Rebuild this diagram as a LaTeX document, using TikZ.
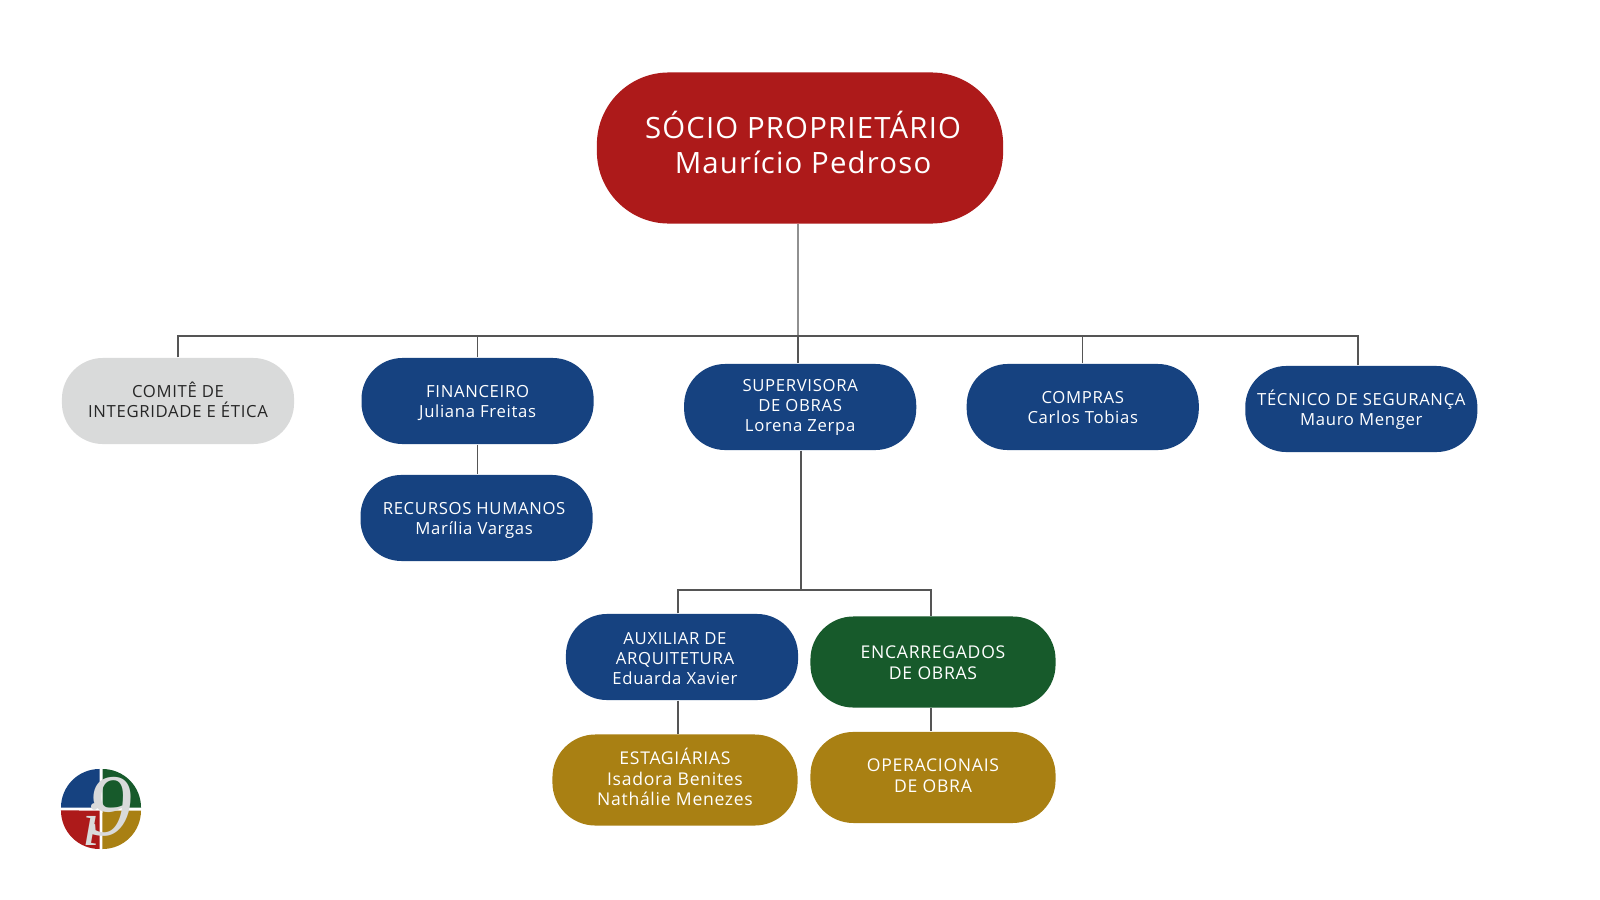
\documentclass[tikz,border=0pt]{standalone}
\usepackage{fontspec}
\setmainfont[LetterSpace=4]{Open Sans}
\newfontfamily\logofont{Liberation Serif}
\usepackage{xcolor}
\usetikzlibrary{calc,positioning}
\definecolor{redbox}{HTML}{AD1A1A}
\definecolor{bluebox}{HTML}{164280}
\definecolor{greenbox}{HTML}{175A2B}
\definecolor{goldbox}{HTML}{A98013}
\definecolor{greybox}{HTML}{D9DADA}
\definecolor{wirecol}{HTML}{555555}
% extra room over the first line, pushes the text down a little
\newcommand{\toprow}[1][1.14em]{\rule{0pt}{#1}}

\begin{document}
\begin{tikzpicture}[x=0.01cm, y=-0.01cm,
      pill/.style={align=center, inner sep=0pt, text=white, font=\fontsize{4.75}{5.7}\selectfont,
        execute at end node=\strut,
        minimum width=2.32cm, minimum height=0.86cm, rounded corners=0.41cm},
      bigpill/.style={pill, minimum width=2.45cm, minimum height=0.91cm, rounded corners=0.43cm, font=\fontsize{5}{5.9}\selectfont},
      wire/.style={draw=wirecol, line width=0.4pt}]
    \useasboundingbox (0,0) rectangle (1600,900);
    \fill[white] (0,0) rectangle (1600,900);

    % top of the chart
    \node[pill, fill=redbox, minimum width=4.06cm, minimum height=1.51cm, rounded corners=0.72cm,
      font=\fontsize{8.35}{10}\selectfont] (socio) at (800,148) {\toprow[0.91em]\kern0.06cm SÓCIO PROPRIETÁRIO\\\kern0.06cm Maurício Pedroso};

    % second row
    \node[pill, fill=greybox, text=black!85] (comite) at (178,401) {\toprow COMITÊ DE\\INTEGRIDADE E ÉTICA};
    \node[pill, fill=bluebox, right=0.66cm of comite] (financeiro) {\toprow FINANCEIRO\\Juliana Freitas};
    \node[pill, fill=bluebox, right=0.89cm of financeiro, yshift=-0.06cm] (supervisora) {\toprow[0.95em]SUPERVISORA\\DE OBRAS\\Lorena Zerpa};
    \node[pill, fill=bluebox, right=0.49cm of supervisora] (compras) {\toprow COMPRAS\\Carlos Tobias};
    \node[pill, fill=bluebox, right=0.45cm of compras, yshift=-0.02cm] (tecnico) {\toprow TÉCNICO DE SEGURANÇA\\Mauro Menger};
    \node[pill, fill=bluebox, below=0.295cm of financeiro, xshift=-0.01cm] (recursos) {\toprow RECURSOS HUMANOS\kern0.05cm\\Marília Vargas\kern0.05cm};

    % below the supervisora
    \node[pill, fill=bluebox] (auxiliar) at (682,657) {\toprow[1.3em]AUXILIAR DE\kern0.14cm\\ARQUITETURA\kern0.14cm\\Eduarda Xavier\kern0.14cm};
    \node[bigpill, fill=greenbox] (encarregados) at (933,662) {\toprow ENCARREGADOS\\DE OBRAS};
    \node[bigpill, fill=goldbox] (estagiarias) at (675,780) {ESTAGIÁRIAS\\Isadora Benites\\Nathálie Menezes};
    \node[bigpill, fill=goldbox, below=0.23cm of encarregados] (operacionais) {\toprow[0.9em]OPERACIONAIS\\DE OBRA};

    \coordinate (busa) at (798,336);
    \coordinate (busb) at (801,590);
    \draw[wire] ([xshift=-0.02cm]socio.south) -- (busa);
    \draw[wire] (comite.north) |- (busa);
    \draw[wire] ([xshift=-0.035cm]tecnico.north) |- (busa);
    \draw[wire] (financeiro.north) -- (financeiro.north |- busa);
    \draw[wire] (busa) -- (busa |- supervisora.north);
    \draw[wire] (compras.north) -- (compras.north |- busa);
    \draw[wire] (financeiro.south) -- (financeiro.south |- recursos.north);
    \draw[wire] (busb |- supervisora.south) -- (busb);
    \draw[wire] ([xshift=-0.04cm]auxiliar.north) |- (busb);
    \draw[wire] ([xshift=-0.02cm]encarregados.north) |- (busb);
    \draw[wire] ([xshift=-0.04cm]auxiliar.south) -- ([xshift=-0.04cm]auxiliar.south |- estagiarias.north);
    \draw[wire] ([xshift=-0.02cm]encarregados.south) -- ([xshift=-0.02cm]operacionais.north);

    % logo
    \fill[bluebox] (99.5,807.5) -- (61,807.5) arc[start angle=180, end angle=90, radius=0.385cm] -- cycle;
    \fill[greenbox] (102.5,807.5) -- (102.5,769) arc[start angle=90, end angle=0, radius=0.385cm] -- cycle;
    \fill[redbox] (99.5,810.5) -- (99.5,849) arc[start angle=270, end angle=180, radius=0.385cm] -- cycle;
    \fill[goldbox] (102.5,810.5) -- (141,810.5) arc[start angle=0, end angle=-90, radius=0.385cm] -- cycle;
    \node[inner sep=0pt, text=greybox, font=\logofont\itshape\fontsize{25}{25}\selectfont] (nine) at (110,807) {9};
    \node[inner sep=0pt, text=greybox, font=\logofont\itshape\fontsize{18}{18}\selectfont] (eye) at (91,825) {i};
  \end{tikzpicture}
\end{document}
